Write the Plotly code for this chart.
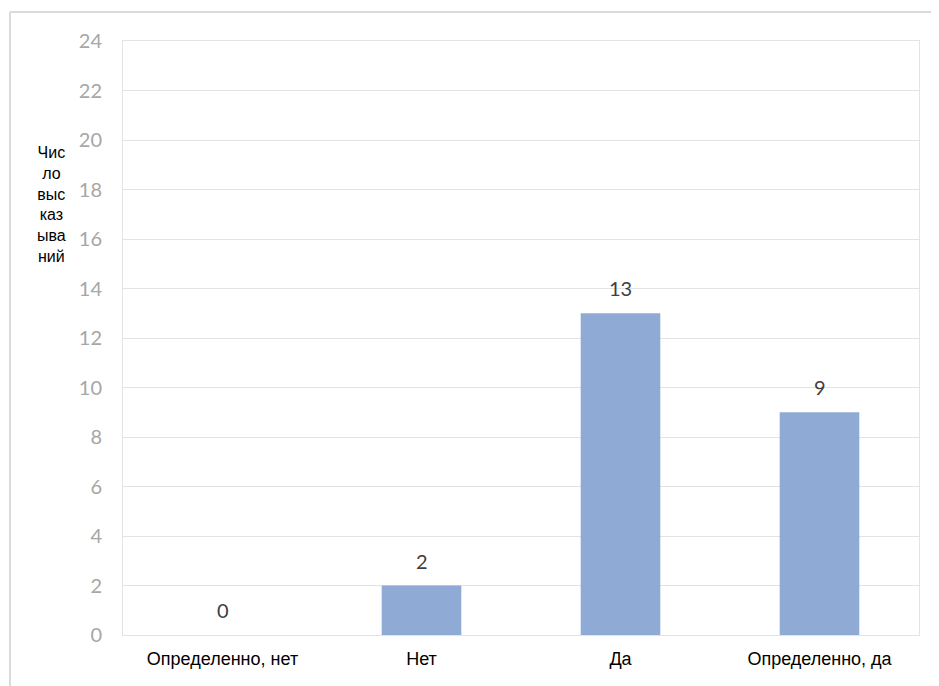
import plotly.graph_objects as go

categories = ["Определенно, нет", "Нет", "Да", "Определенно, да"]
values = [0, 2, 13, 9]
y_ticks = list(range(0, 25, 2))
y_title_lines = ["Чис", "ло", "выс", "каз", "ыва", "ний"]

bar_color = "#8FAAD4"
grid_color = "#E3E3E3"

fig = go.Figure()
fig.add_trace(go.Bar(
    x=categories, y=values, marker_color=bar_color, width=0.4,
    marker_line_width=0, hoverinfo="x+y",
))

for c, v in zip(categories, values):
    fig.add_annotation(x=c, y=v, text=str(v), showarrow=False, yshift=25,
                       font=dict(family="Lato", size=20, color="#404040"))

fig.add_annotation(xref="paper", yref="paper", x=-0.09, y=0.724,
                   text="<br>".join(y_title_lines), showarrow=False,
                   xanchor="center", yanchor="middle", align="center",
                   font=dict(family="Liberation Sans", size=16, color="#000000"))

# outer chart frame
fig.add_shape(type="line", xref="paper", yref="paper", x0=-0.142, x1=1.05,
              y0=1.049, y1=1.049, line=dict(color="#DADADA", width=2))
fig.add_shape(type="line", xref="paper", yref="paper", x0=-0.142, x1=-0.142,
              y0=1.049, y1=-0.12, line=dict(color="#DADADA", width=2))

fig.update_layout(
    width=939, height=686,
    margin=dict(l=115, r=28, t=33, b=59),
    paper_bgcolor="white", plot_bgcolor="white",
    showlegend=False,
    xaxis=dict(
        showgrid=False, showline=True, mirror=True, linecolor=grid_color,
        linewidth=1, ticks="", ticklabelstandoff=7,
        tickfont=dict(family="Liberation Sans", size=18, color="#000000"),
    ),
    yaxis=dict(
        range=[0, 24], tickvals=y_ticks, showgrid=True, gridcolor=grid_color,
        showline=True, mirror=True, linecolor=grid_color, zeroline=False,
        ticks="", ticklabelstandoff=16,
        tickfont=dict(family="Lato", size=20, color="#A6A6A6"),
    ),
)

fig.write_html("out.html")
